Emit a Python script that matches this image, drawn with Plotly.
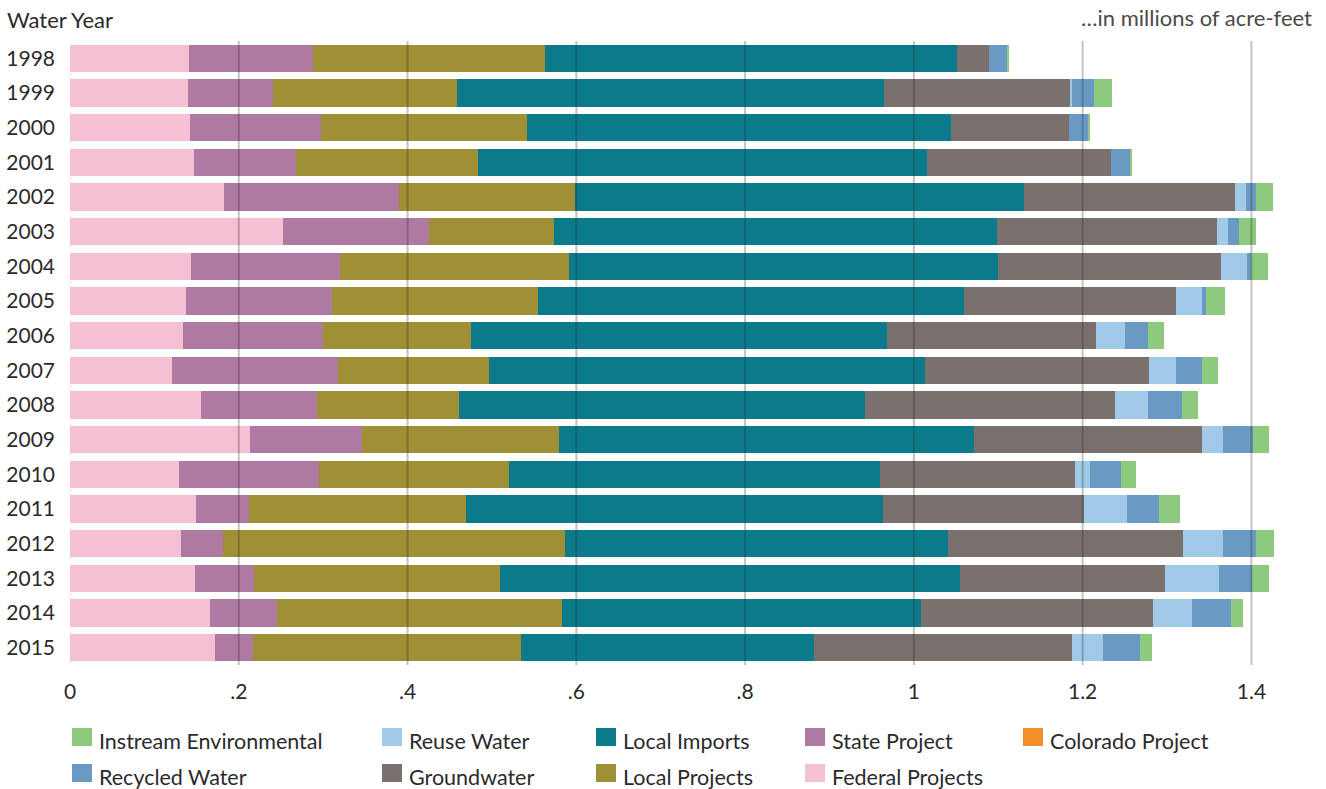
import plotly.graph_objects as go

years = ["1998", "1999", "2000", "2001", "2002", "2003", "2004", "2005", "2006",
         "2007", "2008", "2009", "2010", "2011", "2012", "2013", "2014", "2015"]

federal_projects = [0.141, 0.140, 0.142, 0.147, 0.183, 0.252, 0.143, 0.138, 0.134,
                    0.121, 0.155, 0.213, 0.129, 0.149, 0.131, 0.148, 0.166, 0.172]
colorado_project = [0.0] * 18
state_project = [0.147, 0.101, 0.155, 0.121, 0.207, 0.174, 0.177, 0.172, 0.166,
                 0.196, 0.138, 0.133, 0.166, 0.063, 0.050, 0.070, 0.079, 0.045]
local_projects = [0.275, 0.218, 0.244, 0.216, 0.209, 0.148, 0.271, 0.245, 0.175,
                  0.179, 0.168, 0.234, 0.225, 0.257, 0.405, 0.292, 0.338, 0.318]
local_imports = [0.488, 0.506, 0.503, 0.531, 0.532, 0.524, 0.509, 0.505, 0.493,
                 0.517, 0.481, 0.491, 0.440, 0.495, 0.454, 0.545, 0.426, 0.347]
groundwater = [0.038, 0.221, 0.140, 0.219, 0.250, 0.261, 0.264, 0.251, 0.248,
               0.266, 0.296, 0.271, 0.231, 0.238, 0.279, 0.243, 0.274, 0.305]
reuse_water = [0.000, 0.001, 0.000, 0.000, 0.013, 0.013, 0.031, 0.030, 0.034,
               0.032, 0.040, 0.024, 0.018, 0.051, 0.047, 0.064, 0.047, 0.037]
recycled_water = [0.022, 0.026, 0.023, 0.023, 0.011, 0.013, 0.004, 0.005, 0.028,
                  0.031, 0.040, 0.036, 0.036, 0.038, 0.040, 0.039, 0.046, 0.044]
instream_environmental = [0.002, 0.022, 0.002, 0.002, 0.021, 0.021, 0.021, 0.023, 0.019,
                          0.018, 0.019, 0.019, 0.018, 0.024, 0.021, 0.020, 0.014, 0.014]

tick_values = [0, 0.2, 0.4, 0.6, 0.8, 1.0, 1.2, 1.4]
tick_labels = ["0", ".2", ".4", ".6", ".8", "1", "1.2", "1.4"]

series = [
    ("Federal Projects", federal_projects, "#F5BFD4"),
    ("Colorado Project", colorado_project, "#F28E2B"),
    ("State Project", state_project, "#AF7AA1"),
    ("Local Projects", local_projects, "#A09035"),
    ("Local Imports", local_imports, "#0B7B8C"),
    ("Groundwater", groundwater, "#7A706E"),
    ("Reuse Water", reuse_water, "#A1CAE8"),
    ("Recycled Water", recycled_water, "#6A9AC3"),
    ("Instream Environmental", instream_environmental, "#8DCA7E"),
]
colors = {name: c for name, _, c in series}

legend_layout = [
    ["Instream Environmental", "Recycled Water"],
    ["Reuse Water", "Groundwater"],
    ["Local Imports", "Local Projects"],
    ["State Project", "Federal Projects"],
    ["Colorado Project"],
]
legend_col_px = [72, 382, 596, 805, 1023]
legend_row_px = [737, 773]

W, H = 1326, 789
ML, MR, MT, MB = 70, 13, 41, 124
PW, PH = W - ML - MR, H - MT - MB
XMAX = 1.473
FONT = "Lato"
TXT = "#2b2b2b"
FS = 22
FS_TICK = 21
FS_LEG = 21.5


def px_x(px):
    return (px - ML) / PW


def px_y(py):
    return (H - MB - py) / PH


fig = go.Figure()
for name, vals, color in series:
    fig.add_trace(go.Bar(
        y=years, x=vals, name=name, orientation="h",
        marker=dict(color=color, line=dict(width=0)),
        showlegend=False,
    ))

shapes = []
shapes.append(dict(type="line", xref="x", yref="paper", x0=0, x1=0, y0=0, y1=1,
                   line=dict(color="rgba(0,0,0,0.06)", width=2), layer="below"))
for tv in tick_values[1:]:
    shapes.append(dict(type="line", xref="x", yref="paper", x0=tv, x1=tv, y0=0, y1=1,
                       line=dict(color="rgba(40,40,40,0.28)", width=2), layer="above"))

annotations = [
    dict(text="Water Year", x=px_x(5), y=px_y(20), xref="paper", yref="paper",
         xanchor="left", yanchor="middle", showarrow=False,
         font=dict(family=FONT, size=FS, color=TXT)),
    dict(text="…in millions of acre-feet", x=px_x(1314), y=px_y(18), xref="paper", yref="paper",
         xanchor="right", yanchor="middle", showarrow=False,
         font=dict(family=FONT, size=FS, color="#4a4a4a")),
]

for ci, col in enumerate(legend_layout):
    for ri, name in enumerate(col):
        cx = legend_col_px[ci]
        cy = legend_row_px[ri]
        shapes.append(dict(type="rect", xref="paper", yref="paper",
                           x0=px_x(cx), x1=px_x(cx + 20),
                           y0=px_y(cy - 9), y1=px_y(cy + 9),
                           fillcolor=colors[name], line=dict(width=0)))
        annotations.append(dict(text=name, x=px_x(cx + 26), y=px_y(cy + 4),
                                xref="paper", yref="paper", xanchor="left",
                                yanchor="middle", showarrow=False, borderpad=0,
                                font=dict(family=FONT, size=FS_LEG, color=TXT)))

fig.update_layout(
    width=W, height=H,
    margin=dict(l=ML, r=MR, t=MT, b=MB, autoexpand=False),
    barmode="stack",
    bargap=0.22,
    plot_bgcolor="white",
    paper_bgcolor="white",
    font=dict(family=FONT, size=FS, color=TXT),
    shapes=shapes,
    annotations=annotations,
    xaxis=dict(range=[0, XMAX], tickvals=tick_values, ticktext=tick_labels,
               showgrid=False, zeroline=False, showline=False, ticks="",
               ticklabelstandoff=12, tickfont=dict(family=FONT, size=FS_TICK, color=TXT),
               automargin=False, fixedrange=True),
    yaxis=dict(autorange="reversed", type="category", showgrid=False, zeroline=False,
               showline=False, ticks="", ticklabelstandoff=14,
               tickfont=dict(family=FONT, size=FS_TICK, color=TXT),
               automargin=False, fixedrange=True),
    hovermode="closest",
)

fig.write_html(
    "out.html",
    config={"displayModeBar": False},
    post_script="document.body.style.margin='0';document.body.style.overflow='hidden';",
)
